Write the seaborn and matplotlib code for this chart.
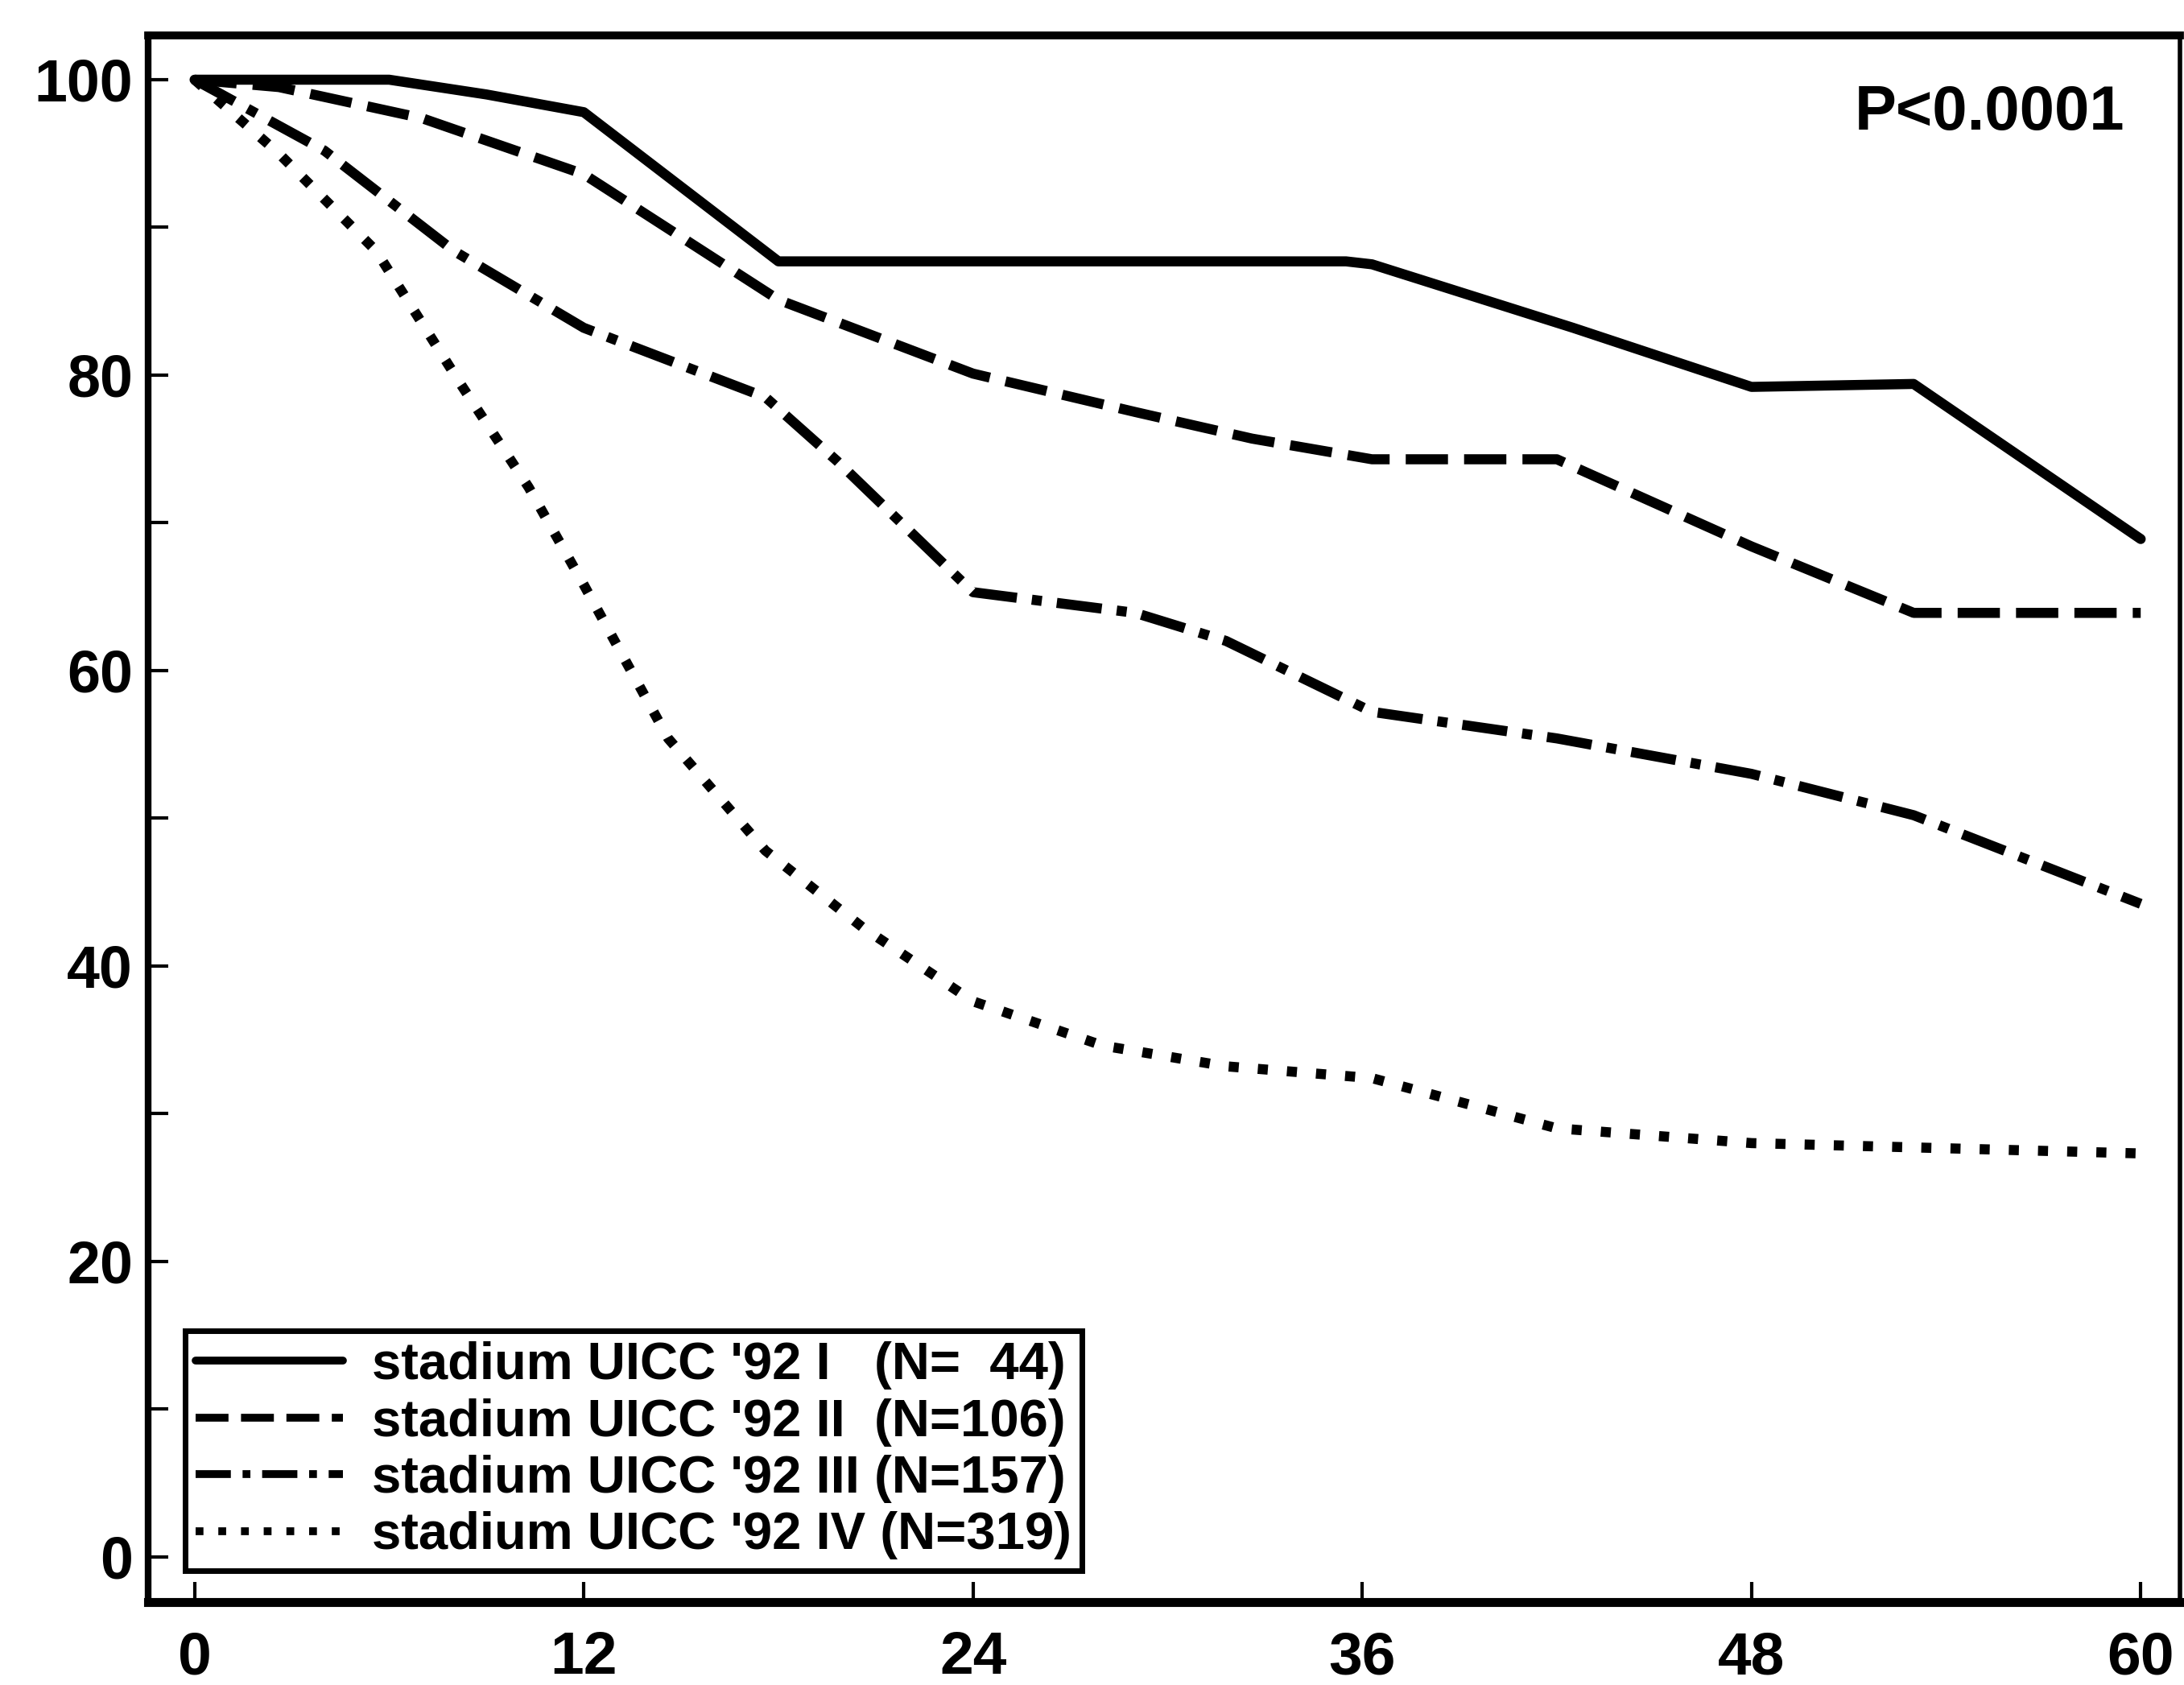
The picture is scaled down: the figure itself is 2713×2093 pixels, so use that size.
import matplotlib
matplotlib.use("Agg")
import matplotlib.pyplot as plt
import seaborn as sns
import pandas as pd

# survival (%) per month
months_I = [0, 1, 6, 9, 12, 18, 35.5, 36.3, 42.5, 48, 53, 60]
surv_I = [100, 100, 100, 99, 97.8, 87.7, 87.7, 87.5, 83.2, 79.2, 79.4, 68.9]

months_II = [0, 2.6, 7, 12, 18, 24, 29, 32.6, 36.3, 42, 48, 53, 60]
surv_II = [100, 99.5, 97.4, 93.6, 85.1, 80.1, 77.5, 75.7, 74.3, 74.3, 68.4, 63.9, 63.9]

months_III = [0, 4, 8, 12, 17.6, 19.8, 24, 29, 31.8, 36.3, 42, 48, 53, 60]
surv_III = [100, 95.2, 88.4, 83.2, 78.5, 74.2, 65.3, 63.9, 62, 57.2, 55.4, 53, 50.2, 44.2]

months_IV = [0, 2.6, 5.6, 8.2, 10.3, 12, 14.6, 17.6, 20.6, 24, 28, 31.8, 36.3, 42, 48, 60]
surv_IV = [100, 95, 88.4, 79.4, 72.4, 65.8, 55.4, 47.8, 42.6, 37.6, 34.6, 33.2, 32.4, 29, 28, 27.3]

labels = ["stadium UICC '92 I   (N=  44)",
          "stadium UICC '92 II  (N=106)",
          "stadium UICC '92 III (N=157)",
          "stadium UICC '92 IV (N=319)"]

x_ticks = [0, 12, 24, 36, 48, 60]
y_ticks = list(range(0, 101, 10))
y_ticklabels = [str(v) if v % 20 == 0 else "" for v in y_ticks]

frames = []
for lab, m, s in zip(labels, [months_I, months_II, months_III, months_IV],
                     [surv_I, surv_II, surv_III, surv_IV]):
    frames.append(pd.DataFrame({"month": m, "survival": s, "stage": lab}))
df = pd.concat(frames, ignore_index=True)

sns.set_style("ticks")
plt.rcParams["font.family"] = ["Liberation Sans", "DejaVu Sans"]

fig = plt.figure(figsize=(27.13, 20.93), dpi=100)
ax = fig.add_axes([0.068, 0.049, 0.930, 0.930])

dash_map = {
    labels[0]: "",
    labels[1]: (4.2, 1.6),
    labels[2]: (4.5, 1.5, 1.0, 1.5),
    labels[3]: (1.0, 1.9),
}
sns.lineplot(data=df, x="month", y="survival", hue="stage", style="stage",
             palette=["black"] * 4, dashes=dash_map, linewidth=9,
             ax=ax, legend=True, estimator=None, sort=False)

ax.set_xlim(-1.42, 61.2)
ax.set_ylim(-3.1, 103)
ax.set_xlabel("")
ax.set_ylabel("")

ax.set_xticks(x_ticks)
ax.set_xticklabels([str(v) for v in x_ticks], fontsize=54, fontweight="bold",
                   color="black")
ax.set_yticks(y_ticks)
ax.set_yticklabels(y_ticklabels, fontsize=53, fontweight="bold", color="black")
ax.tick_params(axis="both", direction="in", length=18, width=3, color="black")
ax.tick_params(axis="x", pad=25)
ax.tick_params(axis="y", pad=14)
ax.tick_params(top=False, right=False)

for side, lw in {"top": 7, "bottom": 8, "left": 6, "right": 4}.items():
    ax.spines[side].set_visible(True)
    ax.spines[side].set_linewidth(lw)
    ax.spines[side].set_color("black")

ax.text(0.973, 0.969, "P<0.0001", transform=ax.transAxes, ha="right", va="top",
        fontsize=56, fontweight="bold", color="black")

handles, labs = ax.get_legend_handles_labels()
leg = ax.legend(handles, labs, loc="lower left", bbox_to_anchor=(0.018, 0.0205),
                borderaxespad=0, frameon=True, fancybox=False,
                prop={"size": 47, "weight": "bold"},
                handlelength=2.8, handletextpad=0.55, labelspacing=0.16,
                borderpad=0.2, edgecolor="black", framealpha=1)
leg.get_frame().set_linewidth(5)
for text in leg.get_texts():
    text.set_color("black")
for line in leg.get_lines():
    line.set_linewidth(7)

fig.savefig("out.png", dpi=100, facecolor="white")
plt.close(fig)
